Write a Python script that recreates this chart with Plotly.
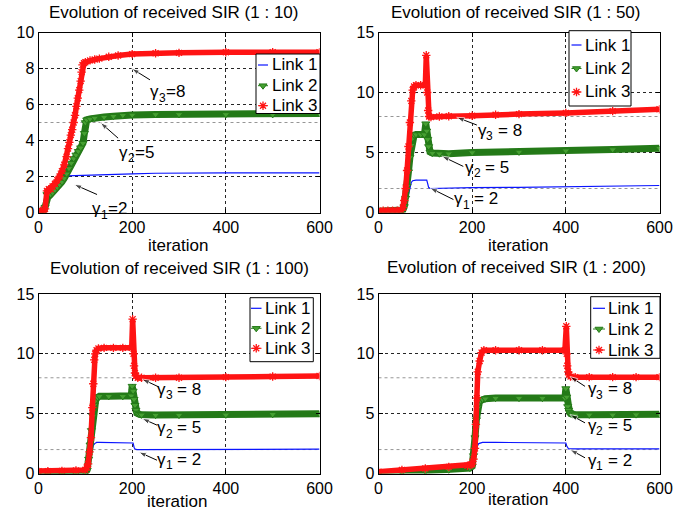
import plotly.graph_objects as go

W, H = 695, 518

# ---------------- data ----------------
titles = ["Evolution of received SIR (1 : 10)", "Evolution of received SIR (1 : 50)",
          "Evolution of received SIR (1 : 100)", "Evolution of received SIR (1 : 200)"]
legend_labels = ["Link 1", "Link 2", "Link 3"]
x_ticks = [0, 200, 400, 600]
y_ticks_p10 = [0, 2, 4, 6, 8, 10]
y_ticks_other = [0, 5, 10, 15]
target_subs = ["3", "2", "1"]
target_vals = ["8", "5", "2"]

# panel 1 : 10
p10_l1_x = [0, 5, 10, 15, 20, 30, 40, 50, 60, 80, 100, 120, 150, 200, 250, 300, 400, 500, 600]
p10_l1_y = [0.1, 0.1, 0.3, 1.0, 1.4, 1.6, 1.85, 2.0, 2.03, 2.05, 2.05, 2.1, 2.12, 2.15, 2.18, 2.2, 2.2, 2.2, 2.2]
p10_l2_x = [0, 5, 10, 14, 18, 22, 26, 30, 35, 40, 45, 50, 55, 60, 65, 70, 75, 80, 85, 90, 95, 98, 100, 103,
            110, 120, 140, 160, 180, 200, 250, 300, 400, 500, 600]
p10_l2_y = [0.1, 0.05, 0.0, 0.3, 1.0, 1.05, 1.0, 1.1, 1.25, 1.4, 1.55, 1.7, 1.9, 2.15, 2.45, 2.75, 3.0, 3.2,
            3.4, 3.6, 3.85, 4.4, 5.0, 5.15, 5.2, 5.25, 5.3, 5.35, 5.4, 5.42, 5.45, 5.45, 5.45, 5.45, 5.5]
p10_l3_x = [0, 5, 10, 14, 18, 22, 26, 30, 35, 40, 45, 50, 55, 60, 63, 66, 69, 72, 75, 78, 81, 84, 87, 90,
            92, 94, 97, 100, 110, 120, 130, 150, 170, 200, 250, 300, 400, 500, 600]
p10_l3_y = [0.1, 0.1, 0.0, 0.2, 1.2, 1.3, 1.3, 1.45, 1.6, 1.8, 2.0, 2.3, 2.65, 3.1, 3.55, 3.9, 4.3, 4.6,
            5.0, 5.4, 5.9, 6.35, 6.8, 7.3, 7.8, 8.2, 8.3, 8.35, 8.45, 8.5, 8.55, 8.65, 8.72, 8.8, 8.85,
            8.87, 8.9, 8.9, 8.9]

# panel 1 : 50
p50_l1_x = [0, 20, 40, 50, 55, 60, 64, 67, 70, 73, 76, 80, 90, 100, 103, 105, 107, 110, 130, 200, 300,
            400, 500, 600]
p50_l1_y = [0.05, 0.05, 0.05, 0.1, 0.3, 0.8, 1.5, 2.1, 2.5, 2.65, 2.7, 2.7, 2.7, 2.7, 2.7, 2.4, 2.1, 2.0,
            2.02, 2.07, 2.1, 2.17, 2.2, 2.25]
p50_l2_x = [0, 10, 20, 30, 40, 48, 52, 55, 58, 61, 64, 67, 70, 73, 76, 80, 90, 98, 101, 103, 105, 107,
            110, 115, 130, 150, 200, 300, 400, 500, 600]
p50_l2_y = [0.1, 0.1, 0.1, 0.1, 0.1, 0.1, 0.2, 0.5, 1.2, 2.2, 3.4, 4.6, 5.6, 6.2, 6.45, 6.5, 6.5, 6.5,
            7.4, 6.8, 6.1, 5.5, 5.05, 4.95, 4.9, 4.9, 5.0, 5.05, 5.15, 5.25, 5.35]
p50_l3_x = [0, 10, 20, 30, 40, 48, 52, 55, 58, 61, 64, 67, 70, 73, 76, 80, 90, 100, 102, 104, 106, 108,
            112, 130, 150, 200, 250, 300, 400, 500, 600]
p50_l3_y = [0.15, 0.15, 0.15, 0.15, 0.15, 0.2, 0.4, 1.0, 2.0, 3.5, 5.5, 7.5, 9.3, 10.2, 10.5, 10.6, 10.6,
            10.6, 13.1, 10.0, 8.5, 8.0, 7.95, 8.0, 8.02, 8.06, 8.15, 8.2, 8.3, 8.45, 8.6]

# panel 1 : 100
p100_l1_x = [0, 50, 100, 105, 108, 111, 114, 117, 120, 124, 130, 150, 180, 200, 202, 204, 206, 210, 250,
             300, 400, 500, 600]
p100_l1_y = [0.2, 0.2, 0.25, 0.4, 0.9, 1.5, 2.0, 2.35, 2.5, 2.6, 2.6, 2.6, 2.6, 2.6, 2.55, 2.2, 2.05,
             2.0, 2.0, 2.0, 2.0, 2.02, 2.03]
p100_l2_x = [0, 20, 50, 80, 100, 104, 107, 110, 113, 116, 119, 122, 126, 130, 150, 180, 198, 200, 202,
             204, 206, 208, 210, 215, 220, 250, 300, 400, 500, 600]
p100_l2_y = [0.05, 0.0, 0.0, 0.0, 0.05, 0.3, 1.2, 2.4, 3.6, 4.8, 5.7, 6.1, 6.35, 6.45, 6.45, 6.45, 6.5,
             7.3, 6.9, 6.2, 5.7, 5.3, 5.05, 4.95, 4.9, 4.88, 4.88, 4.9, 4.95, 5.0]
p100_l3_x = [0, 20, 50, 80, 100, 103, 106, 109, 112, 115, 117, 119, 121, 124, 128, 140, 160, 180, 199,
             201, 203, 204, 206, 208, 212, 220, 250, 300, 400, 500, 600]
p100_l3_y = [0.2, 0.2, 0.22, 0.25, 0.3, 0.5, 0.8, 1.8, 3.0, 5.5, 7.5, 9.5, 10.0, 10.3, 10.45, 10.5, 10.5,
             10.5, 10.5, 12.9, 10.0, 9.0, 8.4, 8.15, 8.0, 8.0, 8.0, 8.0, 8.05, 8.1, 8.15]

# panel 1 : 200
p200_l1_x = [0, 50, 100, 150, 198, 202, 205, 208, 211, 214, 218, 222, 250, 300, 350, 398, 400, 402, 404,
             406, 410, 450, 500, 600]
p200_l1_y = [0.2, 0.3, 0.4, 0.5, 0.6, 0.8, 1.3, 1.9, 2.3, 2.5, 2.55, 2.6, 2.6, 2.6, 2.6, 2.6, 2.55, 2.3,
             2.1, 2.05, 2.05, 2.05, 2.05, 2.05]
p200_l2_x = [0, 50, 100, 150, 195, 200, 203, 206, 209, 212, 215, 218, 222, 228, 250, 300, 350, 398, 400,
             402, 404, 406, 408, 410, 415, 420, 450, 500, 550, 600]
p200_l2_y = [0.0, 0.1, 0.2, 0.3, 0.45, 0.6, 1.5, 3.0, 4.5, 5.5, 5.9, 6.1, 6.2, 6.25, 6.3, 6.3, 6.3, 6.3,
             7.1, 6.4, 5.6, 5.3, 5.1, 5.0, 4.92, 4.9, 4.9, 4.9, 4.92, 4.95]
p200_l3_x = [0, 50, 100, 150, 190, 198, 200, 203, 206, 208, 210, 212, 216, 220, 225, 250, 300, 350, 398,
             401, 402, 403, 405, 407, 410, 420, 450, 500, 550, 600]
p200_l3_y = [0.15, 0.3, 0.42, 0.55, 0.65, 0.75, 0.8, 1.2, 2.1, 4.1, 6.3, 8.5, 9.4, 10.1, 10.3, 10.3, 10.3,
             10.3, 10.3, 12.3, 10.0, 9.0, 8.5, 8.25, 8.1, 8.05, 8.05, 8.05, 8.05, 8.05]

# ---------------- styling ----------------
FONT = "Liberation Sans, Arial, Helvetica, sans-serif"
BLUE = "rgb(10,20,255)"
GREEN = "rgb(36,122,24)"
GREEN_FILL = "rgb(70,160,50)"
RED = "rgb(255,20,20)"
FS = 16
LAB_FS = 17
SUB_FS = 12

def px(x):
    return x / W

def py(y):
    return 1 - y / H

panels = [
    dict(series=[(p10_l1_x, p10_l1_y), (p10_l2_x, p10_l2_y), (p10_l3_x, p10_l3_y)],
         yr=[0, 10], yt=y_ticks_p10, xd=[38.5, 319.5], yd=[212.5, 32.5], grey=[5],
         title=(174, 13), xlab=(178, 245), eq="=", eq_shift=15.5,
         label_pos=[(234, 6.7), (168, 3.35), (110, 0.2)],
         arrows=[((199, 8.0), (238, 7.37)), ((132, 5.0), (170, 4.13)), ((76, 1.56), (125, 1.0))],
         legend=dict(box=(256, 54, 320, 113.5), rows=[65, 85.7, 105.7], line=(258, 268), tx=270)),
    dict(series=[(p50_l1_x, p50_l1_y), (p50_l2_x, p50_l2_y), (p50_l3_x, p50_l3_y)],
         yr=[0, 15], yt=y_ticks_other, xd=[378.5, 659.5], yd=[212.5, 32.5], grey=[2, 8],
         title=(515, 13), xlab=(518, 245), eq="= ", eq_shift=20,
         label_pos=[(208, 6.85), (181, 3.78), (157, 1.15)],
         arrows=[((167, 7.93), (210, 7.29)), ((135, 4.7), (181, 3.84)), ((110, 2.05), (160, 1.08))],
         legend=dict(box=(569, 30.7, 631, 106), rows=[45, 68.5, 92], line=(571.5, 581.5), tx=582.5)),
    dict(series=[(p100_l1_x, p100_l1_y), (p100_l2_x, p100_l2_y), (p100_l3_x, p100_l3_y)],
         yr=[0, 15], yt=y_ticks_other, xd=[38.5, 319.5], yd=[473.5, 294], grey=[2, 8],
         title=(179, 268), xlab=(177, 501), eq="= ", eq_shift=20,
         label_pos=[(249, 7.05), (249, 3.84), (249, 1.19)],
         arrows=[((221, 7.89), (256, 7.25)), ((221, 4.6), (253, 4.04)), ((214, 1.8), (253, 1.11))],
         legend=dict(box=(250, 297.7, 313.3, 361.7), rows=[308.3, 328.3, 348.3], line=(251, 261.5), tx=262.5)),
    dict(series=[(p200_l1_x, p200_l1_y), (p200_l2_x, p200_l2_y), (p200_l3_x, p200_l3_y)],
         yr=[0, 15], yt=y_ticks_other, xd=[378.5, 659.5], yd=[473.5, 294], grey=[2, 8],
         title=(516, 267), xlab=(518, 499), eq="= ", eq_shift=20,
         label_pos=[(442, 7.08), (442, 4.03), (442, 1.11)],
         arrows=[((409, 8.1), (441, 7.28)), ((409, 4.92), (441, 4.23)), ((409, 2.0), (441, 1.31))],
         legend=dict(box=(590.7, 296.7, 660, 358.3), rows=[308.3, 329, 350], line=(593, 605), tx=606)),
]

fig = go.Figure()
layout = dict(template="none", width=W, height=H, autosize=False, margin=dict(l=0, r=0, t=0, b=0, pad=0),
              paper_bgcolor="white", plot_bgcolor="rgba(0,0,0,0)", showlegend=False,
              font=dict(family=FONT, size=FS, color="black"))
annotations = []
shapes = []

for i, p in enumerate(panels, start=1):
    xa = "x" if i == 1 else f"x{i}"
    ya = "y" if i == 1 else f"y{i}"
    (x1, y1), (x2, y2), (x3, y3) = p["series"]
    # Link 1
    fig.add_trace(go.Scatter(x=x1, y=y1, mode="lines", line=dict(color=BLUE, width=1.2),
                             xaxis=xa, yaxis=ya, name="Link 1"))
    # Link 2 (dense band of markers)
    fig.add_trace(go.Scatter(x=x2, y=y2, mode="lines", line=dict(color=GREEN, width=7),
                             xaxis=xa, yaxis=ya, name="Link 2", hoverinfo="skip"))
    fig.add_trace(go.Scatter(x=x2, y=y2, mode="lines+markers", line=dict(color=GREEN, width=1),
                             marker=dict(symbol="triangle-down", size=7, color=GREEN_FILL,
                                         line=dict(color=GREEN, width=1)),
                             xaxis=xa, yaxis=ya, name="Link 2"))
    # Link 3
    fig.add_trace(go.Scatter(x=x3, y=y3, mode="lines", line=dict(color=RED, width=5.5),
                             xaxis=xa, yaxis=ya, name="Link 3", hoverinfo="skip"))
    fig.add_trace(go.Scatter(x=x3, y=y3, mode="lines+markers", line=dict(color=RED, width=1),
                             marker=dict(symbol="asterisk", size=7, color=RED,
                                         line=dict(color=RED, width=1.3)),
                             xaxis=xa, yaxis=ya, name="Link 3"))

    axcommon = dict(showline=True, linecolor="black", linewidth=1, mirror="allticks",
                    ticks="inside", ticklen=4, tickcolor="black", tickwidth=1,
                    showgrid=True, gridcolor="rgba(0,0,0,0.85)", griddash="dot", gridwidth=1,
                    zeroline=False, tickfont=dict(family=FONT, size=FS, color="black"),
                    fixedrange=True, automargin=False)
    layout["xaxis" if i == 1 else f"xaxis{i}"] = dict(
        domain=[px(p["xd"][0]), px(p["xd"][1])], anchor=ya, range=[0, 600],
        tickmode="array", tickvals=x_ticks, ticktext=[str(v) for v in x_ticks], **axcommon)
    layout["yaxis" if i == 1 else f"yaxis{i}"] = dict(
        domain=[py(p["yd"][0]), py(p["yd"][1])], anchor=xa, range=p["yr"],
        tickmode="array", tickvals=p["yt"], ticktext=[str(v) for v in p["yt"]], **axcommon)

    for g in p["grey"]:
        shapes.append(dict(type="line", xref=xa, yref=ya, x0=0, x1=600, y0=g, y1=g,
                           line=dict(color="rgb(150,150,150)", width=1, dash="dot"), layer="below"))

    annotations.append(dict(text=titles[i - 1], x=px(p["title"][0]), y=py(p["title"][1]),
                            xref="paper", yref="paper", showarrow=False, xanchor="center",
                            yanchor="middle", font=dict(family=FONT, size=17, color="black")))
    annotations.append(dict(text="iteration", x=px(p["xlab"][0]), y=py(p["xlab"][1]),
                            xref="paper", yref="paper", showarrow=False, xanchor="center",
                            yanchor="middle", font=dict(family=FONT, size=17, color="black")))
    # target labels: gamma, subscript index, "= value"
    for sub, val, (lx, ly) in zip(target_subs, target_vals, p["label_pos"]):
        common = dict(x=lx, y=ly, xref=xa, yref=ya, showarrow=False, xanchor="left", yanchor="middle")
        annotations.append(dict(text="γ", font=dict(family=FONT, size=LAB_FS, color="black"), **common))
        annotations.append(dict(text=sub, xshift=8.5, yshift=-6,
                                font=dict(family=FONT, size=SUB_FS, color="black"), **common))
        annotations.append(dict(text="=" + (" " if p["eq"] == "= " else "") + val, xshift=p["eq_shift"],
                                font=dict(family=FONT, size=LAB_FS, color="black"), **common))
    # arrows pointing at the target levels
    for (tip, tail) in p["arrows"]:
        fig.add_trace(go.Scatter(x=[tail[0], tip[0]], y=[tail[1], tip[1]], mode="lines+markers",
                                 line=dict(color="black", width=1),
                                 marker=dict(symbol="arrow", size=[0, 8], angleref="previous",
                                             color="black", standoff=0),
                                 xaxis=xa, yaxis=ya, hoverinfo="skip", cliponaxis=False))

    # ---- legend box drawn on a pixel overlay axis ----
    lg = p["legend"]
    bx0, by0, bx1, by1 = lg["box"]
    fig.add_trace(go.Scatter(x=[bx0, bx1, bx1, bx0, bx0], y=[by0, by0, by1, by1, by0],
                             mode="lines", fill="toself", fillcolor="white",
                             line=dict(color="black", width=1), xaxis="x5", yaxis="y5",
                             hoverinfo="skip"))
    lx0, lx1 = lg["line"]
    cx = (lx0 + lx1) / 2
    r1, r2, r3 = lg["rows"]
    fig.add_trace(go.Scatter(x=[lx0, lx1], y=[r1, r1], mode="lines", line=dict(color=BLUE, width=1.2),
                             xaxis="x5", yaxis="y5", hoverinfo="skip"))
    fig.add_trace(go.Scatter(x=[lx0, lx1], y=[r2, r2], mode="lines", line=dict(color=GREEN, width=1),
                             xaxis="x5", yaxis="y5", hoverinfo="skip"))
    fig.add_trace(go.Scatter(x=[cx], y=[r2], mode="markers",
                             marker=dict(symbol="triangle-down", size=7, color=GREEN_FILL,
                                         line=dict(color=GREEN, width=1)),
                             xaxis="x5", yaxis="y5", hoverinfo="skip"))
    fig.add_trace(go.Scatter(x=[lx0, lx1], y=[r3, r3], mode="lines", line=dict(color=RED, width=1),
                             xaxis="x5", yaxis="y5", hoverinfo="skip"))
    fig.add_trace(go.Scatter(x=[cx], y=[r3], mode="markers",
                             marker=dict(symbol="asterisk", size=7, color=RED, line=dict(color=RED, width=1.3)),
                             xaxis="x5", yaxis="y5", hoverinfo="skip"))
    for lab, r in zip(legend_labels, lg["rows"]):
        annotations.append(dict(text=lab, x=px(lg["tx"]), y=py(r), xref="paper", yref="paper",
                                showarrow=False, xanchor="left", yanchor="middle",
                                font=dict(family=FONT, size=17, color="black")))

layout["xaxis5"] = dict(domain=[0, 1], range=[0, W], visible=False, fixedrange=True, anchor="y5",
                        automargin=False)
layout["yaxis5"] = dict(domain=[0, 1], range=[H, 0], visible=False, fixedrange=True, anchor="x5",
                        automargin=False)
layout["annotations"] = annotations
layout["shapes"] = shapes
fig.update_layout(**layout)
fig.write_html("out.html", config={"displayModeBar": False},
               post_script="document.body.style.margin='0px';document.body.style.padding='0px';")
